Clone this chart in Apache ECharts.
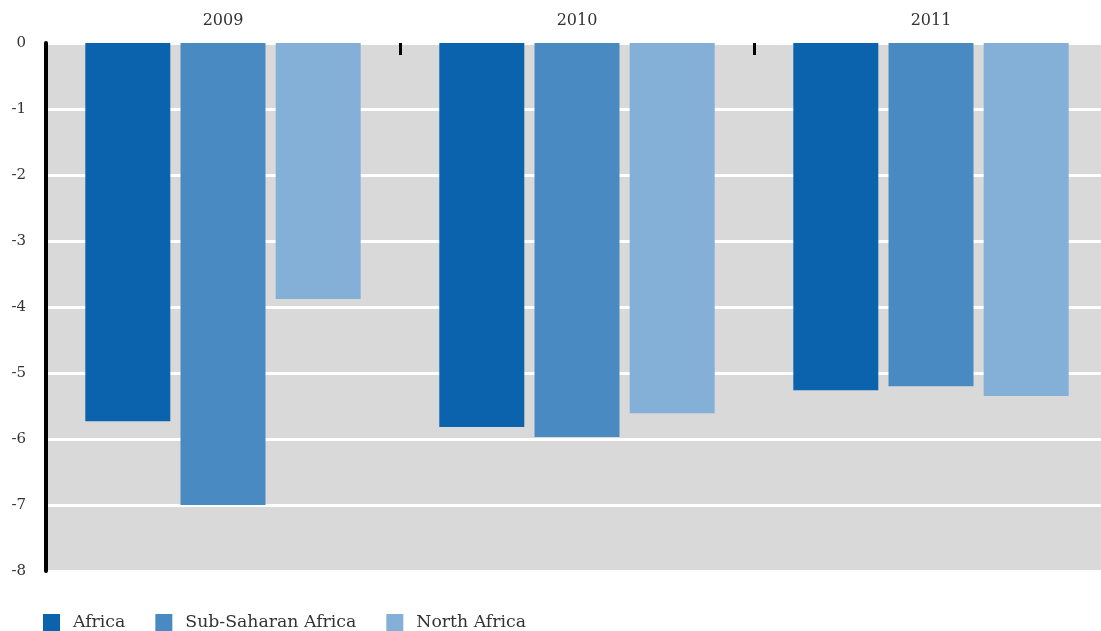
<!DOCTYPE html>
<html><head><meta charset="utf-8">
<script src="https://cdn.jsdelivr.net/npm/echarts@6/dist/echarts.min.js"></script>
<style>html,body{margin:0;padding:0;background:#fff}#c{width:1101px;height:631px}</style>
</head><body><div id="c"></div>
<script>
const categories = ['2009', '2010', '2011'];
const africa = [-5.73, -5.82, -5.26];
const subSaharan = [-7.0, -5.97, -5.2];
const northAfrica = [-3.88, -5.61, -5.35];
const yTicks = [-8, 0, 1];

const serif = '"DejaVu Serif", "Liberation Serif", serif';
const chart = echarts.init(document.getElementById('c'));
function s(name, data, color) {
  return { name, type: 'bar', data, barWidth: 85, barGap: '12%', itemStyle: { color } };
}
chart.setOption({
  animation: false,
  grid: { left: 46, top: 43, width: 1062, height: 528, show: true, backgroundColor: '#d9d9d9', borderWidth: 0, outerBoundsMode: 'none', containLabel: false },
  legend: {
    left: 43, top: 614, padding: 0, itemWidth: 17, itemHeight: 17, itemGap: 30, icon: 'rect',
    textStyle: { fontFamily: serif, fontSize: 17.3, color: '#333', padding: [0, 0, 0, 8] },
    data: ['Africa', 'Sub-Saharan Africa', 'North Africa']
  },
  xAxis: {
    type: 'category', position: 'top', data: categories,
    axisLine: { show: false },
    axisTick: { show: true, inside: true, length: 12, lineStyle: { color: '#000', width: 3 } },
    axisLabel: { fontFamily: serif, fontSize: 16, color: '#333', margin: 14 }
  },
  yAxis: {
    type: 'value', min: yTicks[0], max: yTicks[1], interval: yTicks[2],
    axisLine: { show: true, lineStyle: { color: '#000', width: 4 } },
    axisTick: { show: false },
    splitLine: { show: true, lineStyle: { color: '#fff', width: 3 } },
    axisLabel: { fontFamily: serif, fontSize: 15, color: '#333', margin: 20 }
  },
  series: [
    s('Africa', africa, '#0b63ad'),
    s('Sub-Saharan Africa', subSaharan, '#4a8ac2'),
    s('North Africa', northAfrica, '#84b0d8')
  ]
});
</script></body></html>
